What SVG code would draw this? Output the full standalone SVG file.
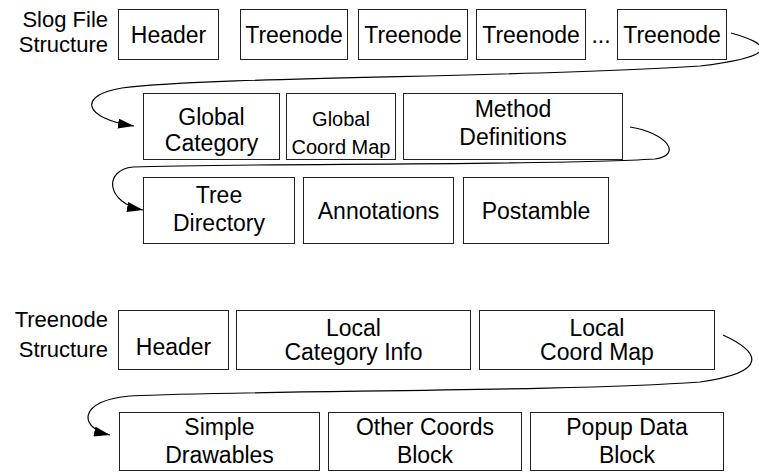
<svg xmlns="http://www.w3.org/2000/svg" width="759" height="472" viewBox="0 0 759 472">
<style>
.b{fill:#fff;stroke:#222;stroke-width:1}
.t{font-family:"Liberation Sans",Arial,sans-serif;font-size:23px;fill:#000;text-anchor:middle}
.s{font-family:"Liberation Sans",Arial,sans-serif;font-size:20px;fill:#000;text-anchor:middle}
.l{font-family:"Liberation Sans",Arial,sans-serif;font-size:22px;fill:#000;text-anchor:end}
.c{fill:none;stroke:#000;stroke-width:1.2}
</style>
<defs>
<marker id="ah" markerWidth="16" markerHeight="10" refX="16" refY="5" orient="auto" markerUnits="userSpaceOnUse">
<path d="M0,0 L16,5 L0,10 Z" fill="#000"/>
</marker>
</defs>
<g id="label-slog"><text class="l" x="108" y="27">Slog File</text><text class="l" x="108" y="52">Structure</text></g>
<g id="n-header"><rect class="b" x="118.5" y="9.5" width="100" height="50"/><text class="t" x="168.5" y="43">Header</text></g>
<g id="n-treenode1"><rect class="b" x="240.5" y="9.5" width="107" height="50"/><text class="t" x="294" y="43">Treenode</text></g>
<g id="n-treenode2"><rect class="b" x="358.5" y="9.5" width="109" height="50"/><text class="t" x="413" y="43">Treenode</text></g>
<g id="n-treenode3"><rect class="b" x="476.5" y="9.5" width="109" height="50"/><text class="t" x="531" y="43">Treenode</text></g>
<g id="n-dots"><text class="t" x="601" y="43">...</text></g>
<g id="n-treenode4"><rect class="b" x="617.5" y="9.5" width="109" height="50"/><text class="t" x="672" y="43">Treenode</text></g>
<g id="n-globalcat"><rect class="b" x="143.5" y="93.5" width="136" height="66"/><text class="t" x="211.5" y="125">Global</text><text class="t" x="211.5" y="151">Category</text></g>
<g id="n-globalcoord"><rect class="b" x="286.5" y="93.5" width="109" height="66"/><text class="s" x="341" y="126">Global</text><text class="s" x="341" y="154">Coord Map</text></g>
<g id="n-method"><rect class="b" x="403.5" y="93.5" width="219" height="66"/><text class="t" x="513" y="117">Method</text><text class="t" x="513" y="145">Definitions</text></g>
<g id="n-treedir"><rect class="b" x="143.5" y="177.5" width="151" height="66"/><text class="t" x="219" y="203">Tree</text><text class="t" x="219" y="231">Directory</text></g>
<g id="n-annot"><rect class="b" x="303.5" y="177.5" width="150" height="66"/><text class="t" x="378.5" y="219">Annotations</text></g>
<g id="n-postamble"><rect class="b" x="463.5" y="177.5" width="145" height="66"/><text class="t" x="536" y="219">Postamble</text></g>
<g id="label-treenode"><text class="l" x="108" y="327">Treenode</text><text class="l" x="108" y="357">Structure</text></g>
<g id="n-tn-header"><rect class="b" x="118.5" y="310.5" width="110" height="59"/><text class="t" x="173.5" y="355">Header</text></g>
<g id="n-localcat"><rect class="b" x="236.5" y="310.5" width="234" height="59"/><text class="t" x="353.5" y="336">Local</text><text class="t" x="353.5" y="360">Category Info</text></g>
<g id="n-localcoord"><rect class="b" x="479.5" y="310.5" width="235" height="59"/><text class="t" x="597" y="336">Local</text><text class="t" x="597" y="360">Coord Map</text></g>
<g id="n-simple"><rect class="b" x="119.5" y="412.5" width="200" height="58"/><text class="t" x="219.5" y="435">Simple</text><text class="t" x="219.5" y="463">Drawables</text></g>
<g id="n-other"><rect class="b" x="328.5" y="412.5" width="193" height="58"/><text class="t" x="425" y="435">Other Coords</text><text class="t" x="425" y="463">Block</text></g>
<g id="n-popup"><rect class="b" x="530.5" y="412.5" width="193" height="58"/><text class="t" x="627" y="435">Popup Data</text><text class="t" x="627" y="463">Block</text></g>
<g id="connectors">
<path class="c" d="M731,33 C770,44 782,56 700,66 C520,78 220,76 122,88 C78,95 82,118 134,126" marker-end="url(#ah)"/>
<path class="c" d="M630,127 C667,133 683,155 655,159 C540,166 240,163 133,167 C103,170 106,203 143,210" marker-end="url(#ah)"/>
<path class="c" d="M723,335 C760,352 770,372 700,382 C560,392 260,390 130,396 C78,400 78,428 110,435" marker-end="url(#ah)"/>
</g>
</svg>
